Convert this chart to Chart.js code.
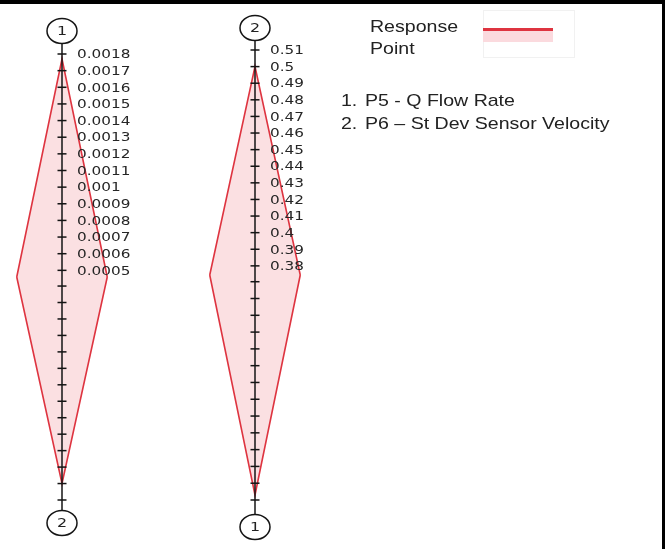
<!DOCTYPE html>
<html>
<head>
<meta charset="utf-8">
<script src="https://cdn.jsdelivr.net/npm/chart.js@4/dist/chart.umd.min.js"></script>
<style>
  html, body { margin: 0; padding: 0; background: #fff; }
  #page { position: relative; width: 666px; height: 549px; overflow: hidden; background: #fff; }
  canvas { position: absolute; top: 0; }
  #frameTop { position: absolute; left: 0; top: 0; width: 665px; height: 4px; background: #000; }
  #frameRight { position: absolute; left: 662px; top: 0; width: 3px; height: 549px; background: #000; }
  .txt { position: absolute; font-family: "Liberation Sans", Arial, sans-serif; font-size: 17px; color: #222;
         white-space: nowrap; line-height: 20px; transform: scaleX(1.15); transform-origin: 0 0; }
  #swatchBox { position: absolute; left: 483px; top: 10px; width: 92px; height: 48px; border: 1px solid #f1f1f1; box-sizing: border-box; }
  #swatchLine { position: absolute; left: 483px; top: 28px; width: 70px; height: 3px; background: rgb(222, 52, 64); }
  #swatchFill { position: absolute; left: 483px; top: 31px; width: 70px; height: 11px; background: rgb(251, 218, 222); }
</style>
</head>
<body>
<div id="page">
  <canvas id="panelA" width="180" height="549" style="left:0px;width:180px;height:549px"></canvas>
  <canvas id="panelB" width="180" height="549" style="left:193px;width:180px;height:549px"></canvas>

  <div id="swatchBox"></div>
  <div id="swatchFill"></div>
  <div id="swatchLine"></div>
  <div class="txt" style="left:370px;top:17px">Response</div>
  <div class="txt" style="left:370px;top:39px">Point</div>

  <div class="txt" style="left:341px;top:91px">1.</div>
  <div class="txt" id="name1" style="left:365px;top:91px"></div>
  <div class="txt" style="left:341px;top:114px">2.</div>
  <div class="txt" id="name2" style="left:365px;top:114px"></div>

  <div id="frameTop"></div>
  <div id="frameRight"></div>
</div>

<script>
// ---- data ----------------------------------------------------------------
const VARIABLES = ['P5 - Q Flow Rate', 'P6 \u2013 St Dev Sensor Velocity'];
const RESPONSE  = [0.00177, 0.500];

const P5_TICKS = [0.0005, 0.0006, 0.0007, 0.0008, 0.0009, 0.001, 0.0011,
                  0.0012, 0.0013, 0.0014, 0.0015, 0.0016, 0.0017, 0.0018];
const P6_TICKS = [0.38, 0.39, 0.4, 0.41, 0.42, 0.43, 0.44,
                  0.45, 0.46, 0.47, 0.48, 0.49, 0.5, 0.51];

// value at the hub and at the far end of each spoke
const SPOKES = [
  { ticks: P5_TICKS, hub: 0.00046, end: 0.0018 },
  { ticks: P6_TICKS, hub: 0.3745,  end: 0.51 }
];

// ---- styling --------------------------------------------------------------
const LINE_RED   = 'rgb(222, 52, 64)';
const FILL_PINK  = 'rgb(251, 224, 226)';
const AXIS_INK   = '#141414';
const LABEL_INK  = '#262626';
const SIDE_SPREAD = 0.73;     // half width of the response shape on the x scale
const GLYPH_STRETCH = 1.22;   // horizontal stretch of the axis lettering

document.getElementById('name1').textContent = VARIABLES[0];
document.getElementById('name2').textContent = VARIABLES[1];

function stretchedText(ctx, text, x, y, align) {
  ctx.save();
  ctx.translate(x, y);
  ctx.scale(GLYPH_STRETCH, 1);
  ctx.textAlign = align;
  ctx.textBaseline = 'middle';
  ctx.fillText(text, 0, 0);
  ctx.restore();
}

// draws the vertical spoke axis, its cross ticks, tick labels and the numbered end markers
const spokeAxis = {
  id: 'spokeAxis',
  afterDatasetsDraw(chart, args, opts) {
    const ctx = chart.ctx;
    const area = chart.chartArea;
    const x0 = chart.scales.x.getPixelForValue(0);
    const up = chart.scales.yUp, dn = chart.scales.yDown;
    const rx = 15, ry = 12.5;
    const topC = area.top - opts.gapTop, botC = area.bottom + opts.gapBottom;

    ctx.save();
    ctx.strokeStyle = AXIS_INK;
    ctx.lineWidth = 1.5;
    ctx.beginPath();
    ctx.moveTo(x0, topC + ry);
    ctx.lineTo(x0, botC - ry);
    ctx.stroke();

    const cross = (y) => {
      ctx.beginPath();
      ctx.moveTo(x0 - 4.5, y);
      ctx.lineTo(x0 + 4.5, y);
      ctx.stroke();
    };
    opts.upTicks.forEach(v => cross(up.getPixelForValue(v)));
    opts.downTicks.forEach(v => cross(dn.getPixelForValue(v)));

    ctx.fillStyle = LABEL_INK;
    ctx.font = '12.5px "DejaVu Sans"';
    opts.upTicks.forEach(v => {
      stretchedText(ctx, String(v), x0 + 15, up.getPixelForValue(v) + 1, 'left');
    });

    // numbered end markers
    ctx.font = '13px "DejaVu Sans"';
    [[topC, opts.topNum], [botC, opts.bottomNum]].forEach(([cy, num]) => {
      ctx.beginPath();
      ctx.ellipse(x0, cy, rx, ry, 0, 0, Math.PI * 2);
      ctx.fillStyle = '#fff';
      ctx.fill();
      ctx.stroke();
      ctx.fillStyle = '#222';
      stretchedText(ctx, num, x0, cy + 1, 'center');
    });
    ctx.restore();
  }
};

function buildPanel(canvasId, upVar, downVar, frame) {
  const up = SPOKES[upVar], dn = SPOKES[downVar];
  const shapeStyle = {
    borderColor: LINE_RED,
    backgroundColor: FILL_PINK,
    borderWidth: 1.6,
    pointRadius: 0,
    tension: 0
  };
  return new Chart(document.getElementById(canvasId), {
    type: 'line',
    data: {
      datasets: [
        Object.assign({
          yAxisID: 'yUp',
          data: [
            { x: -SIDE_SPREAD, y: up.hub },
            { x: 0, y: RESPONSE[upVar] },
            { x: SIDE_SPREAD, y: up.hub }
          ],
          fill: { value: up.hub }
        }, shapeStyle),
        Object.assign({
          yAxisID: 'yDown',
          data: [
            { x: -SIDE_SPREAD, y: dn.hub },
            { x: 0, y: RESPONSE[downVar] },
            { x: SIDE_SPREAD, y: dn.hub }
          ],
          fill: { value: dn.hub }
        }, shapeStyle)
      ]
    },
    options: {
      responsive: false,
      animation: false,
      events: [],
      layout: { padding: { left: 0, right: 56, top: frame.top, bottom: frame.bottom } },
      scales: {
        x: { type: 'linear', min: -1, max: 1, display: false },
        yUp: { type: 'linear', position: 'left', display: false,
               min: 2 * up.hub - up.end, max: up.end },
        yDown: { type: 'linear', position: 'left', display: false, reverse: true,
                 min: 2 * dn.hub - dn.end, max: dn.end }
      },
      plugins: {
        legend: { display: false },
        tooltip: { enabled: false },
        spokeAxis: {
          upTicks: up.ticks,
          downTicks: dn.ticks,
          topNum: String(upVar + 1),
          bottomNum: String(downVar + 1),
          gapTop: frame.gapTop,
          gapBottom: frame.gapBottom
        }
      }
    },
    plugins: [spokeAxis]
  });
}

buildPanel('panelA', 0, 1, { top: 54, bottom: 49, gapTop: 23, gapBottom: 23 });
buildPanel('panelB', 1, 0, { top: 50, bottom: 49, gapTop: 22, gapBottom: 27 });
</script>
</body>
</html>
